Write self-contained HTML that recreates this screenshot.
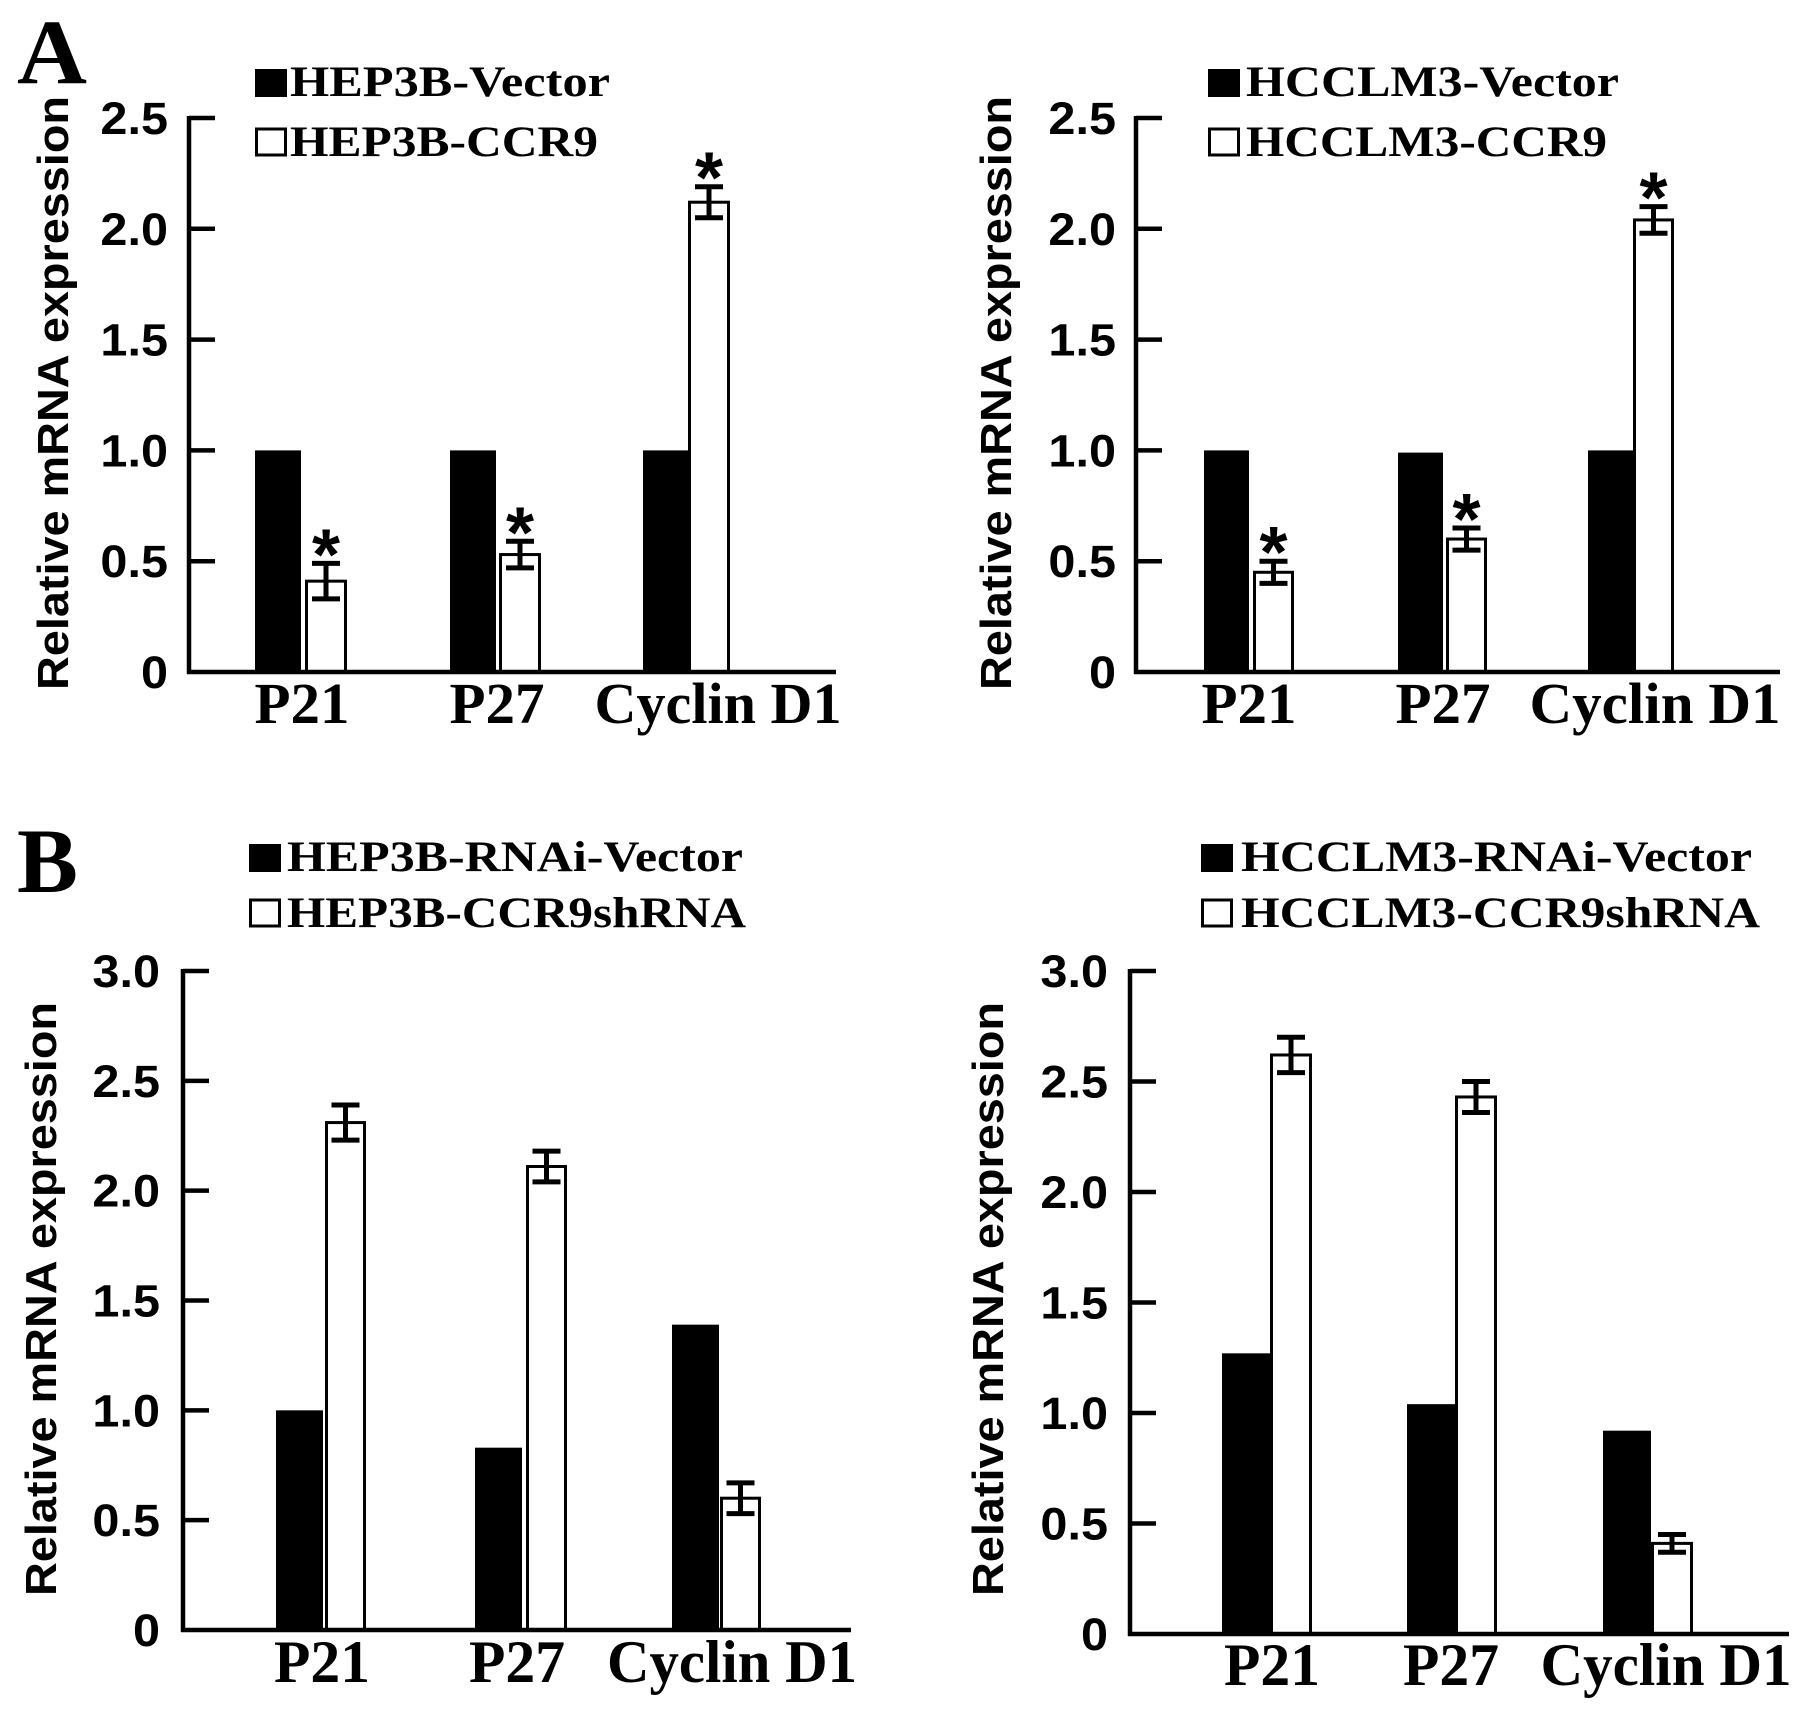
<!DOCTYPE html>
<html><head><meta charset="utf-8"><style>
html,body{margin:0;padding:0;background:#fff;}
svg{display:block;}
</style></head><body>
<svg id="fig" width="1795" height="1709" viewBox="0 0 1795 1709" xmlns="http://www.w3.org/2000/svg">
<text x="17" y="83" font-family="Liberation Serif, serif" font-weight="bold" font-size="92" textLength="70" lengthAdjust="spacingAndGlyphs">A</text>
<text x="17" y="892" font-family="Liberation Serif, serif" font-weight="bold" font-size="92" textLength="61" lengthAdjust="spacingAndGlyphs">B</text>
</svg>
<script>
const categories = ["P21", "P27", "Cyclin D1"];
const aLeftBlack = [1.0, 1.0, 1.0];
const aLeftWhite = [0.41, 0.53, 2.12];
const aLeftErr = [0.08, 0.06, 0.07];
const aRightBlack = [1.0, 0.99, 1.0];
const aRightWhite = [0.45, 0.60, 2.04];
const aRightErr = [0.05, 0.05, 0.06];
const bLeftBlack = [1.0, 0.83, 1.39];
const bLeftWhite = [2.31, 2.11, 0.60];
const bLeftErr = [0.08, 0.07, 0.07];
const bRightBlack = [1.27, 1.04, 0.92];
const bRightWhite = [2.62, 2.43, 0.41];
const bRightErr = [0.08, 0.07, 0.04];
const ticksA = ["0", "0.5", "1.0", "1.5", "2.0", "2.5"];
const ticksB = ["0", "0.5", "1.0", "1.5", "2.0", "2.5", "3.0"];
const starsA = [true, true, true];
const starsB = [false, false, false];

const NS = "http://www.w3.org/2000/svg";
const svg = document.getElementById("fig");
function mk(tag, attrs, parent) {
  const e = document.createElementNS(NS, tag);
  for (const k in attrs) e.setAttribute(k, attrs[k]);
  (parent || svg).appendChild(e);
  return e;
}

const panels = [
  {id:"a-left", ax:189, top:118, base:672, xend:836, max:2.5, ticks:ticksA, tickLabelX:168, titleX:52, titleC:393,
   black:aLeftBlack, white:aLeftWhite, err:aLeftErr, stars:starsA,
   bx:[255,450,643], bw:46, wx:[305,499,688], ww:42,
   catX:[302,497,718], catW:[95,95,247], catY:723, catSize:58,
   legSq:255, legX:290, legY:[96,156], legNames:["HEP3B-Vector","HEP3B-CCR9"], legW:[320,308]},
  {id:"a-right", ax:1136, top:118, base:672, xend:1780, max:2.5, ticks:ticksA, tickLabelX:1116, titleX:995, titleC:393,
   black:aRightBlack, white:aRightWhite, err:aRightErr, stars:starsA,
   bx:[1204,1398,1588], bw:45, wx:[1253,1446,1633], ww:41,
   catX:[1249,1443,1655], catW:[95,95,251], catY:723, catSize:58,
   legSq:1208, legX:1246, legY:[96,156], legNames:["HCCLM3-Vector","HCCLM3-CCR9"], legW:[373,361]},
  {id:"b-left", ax:183, top:971, base:1630, xend:851, max:3.0, ticks:ticksB, tickLabelX:160, titleX:40, titleC:1299,
   black:bLeftBlack, white:bLeftWhite, err:bLeftErr, stars:starsB,
   bx:[276,475,672], bw:47, wx:[325,526,720], ww:41,
   catX:[322,517,732], catW:[96,96,250], catY:1682, catSize:60,
   legSq:249, legX:287, legY:[871,927], legNames:["HEP3B-RNAi-Vector","HEP3B-CCR9shRNA"], legW:[456,459]},
  {id:"b-right", ax:1130, top:971, base:1634, xend:1789, max:3.0, ticks:ticksB, tickLabelX:1108, titleX:987, titleC:1299,
   black:bRightBlack, white:bRightWhite, err:bRightErr, stars:starsB,
   bx:[1222,1407,1603], bw:48, wx:[1270,1455,1651], ww:42,
   catX:[1272,1451,1666], catW:[96,96,251], catY:1685, catSize:60,
   legSq:1201, legX:1241, legY:[871,927], legNames:["HCCLM3-RNAi-Vector","HCCLM3-CCR9shRNA"], legW:[511,519]}
];

panels.forEach(p => {
  const g = mk("g", {});
  
  
  const y = v => p.base - (v / p.max) * (p.base - p.top);

  categories.forEach((c, i) => {
    const b = mk("rect", {x:p.bx[i], y:y(p.black[i]), width:p.bw, height:p.base - y(p.black[i]), fill:"#000"}, g);
    
    
    const w = mk("rect", {x:p.wx[i]+1.5, y:y(p.white[i]), width:p.ww-3, height:p.base - y(p.white[i]), fill:"#fff", stroke:"#000", "stroke-width":3}, g);
    
    
    const cx = p.wx[i] + p.ww / 2;
    const hi = y(p.white[i] + p.err[i]), lo = y(p.white[i] - p.err[i]);
    const eg = mk("g", {stroke:"#000", "stroke-width":5}, g);
    
    
    mk("line", {x1:cx, y1:hi, x2:cx, y2:lo}, eg);
    mk("line", {x1:cx-14, y1:hi, x2:cx+14, y2:hi}, eg);
    mk("line", {x1:cx-14, y1:lo, x2:cx+14, y2:lo}, eg);
    if (p.stars[i]) {
      const s = mk("text", {x:cx, y:hi - 26 + 42, "text-anchor":"middle", "font-family":"Liberation Sans, sans-serif", "font-weight":"bold", "font-size":72}, g);
      s.textContent = "*";
      
      
    }
    const t = mk("text", {x:p.catX[i] - p.catW[i]/2, y:p.catY, "font-family":"Liberation Serif, serif", "font-weight":"bold", "font-size":p.catSize, textLength:p.catW[i], lengthAdjust:"spacingAndGlyphs"}, g);
    t.textContent = c;
    
    
  });

  const axG = mk("g", {stroke:"#000", "stroke-width":4.5, fill:"none"}, g);
  
  
  mk("line", {x1:p.ax, y1:p.top - 2, x2:p.ax, y2:p.base + 2}, axG);
  mk("line", {x1:p.ax - 2, y1:p.base, x2:p.xend, y2:p.base}, axG);
  p.ticks.forEach(tl => {
    const v = parseFloat(tl);
    const yy = y(v);
    if (v > 0) mk("line", {x1:p.ax, y1:yy, x2:p.ax + 26, y2:yy}, axG);
    const t = mk("text", {transform:`translate(${p.tickLabelX},${yy + 16}) scale(1.08,1)`, "text-anchor":"end", "font-family":"Liberation Sans, sans-serif", "font-weight":"bold", "font-size":45}, g);
    t.textContent = tl;
    
    
  });

  const yt = mk("text", {transform:`translate(${p.titleX + 16},${p.titleC + 297}) rotate(-90)`, "font-family":"Liberation Sans, sans-serif", "font-weight":"bold", "font-size":44, textLength:594, lengthAdjust:"spacingAndGlyphs"}, g);
  yt.textContent = "Relative mRNA expression";
  
  

  p.legNames.forEach((n, k) => {
    const lg = mk("g", {}, g);
    
    
    const by = p.legY[k];
    if (k === 0) mk("rect", {x:p.legSq, y:by - 27, width:32, height:28, fill:"#000"}, lg);
    else mk("rect", {x:p.legSq + 1.5, y:by - 27, width:29, height:26, fill:"#fff", stroke:"#000", "stroke-width":3}, lg);
    const t = mk("text", {x:p.legX, y:by, "font-family":"Liberation Serif, serif", "font-weight":"bold", "font-size":43, textLength:p.legW[k], lengthAdjust:"spacingAndGlyphs"}, lg);
    t.textContent = n;
  });
});
</script>
</body></html>
